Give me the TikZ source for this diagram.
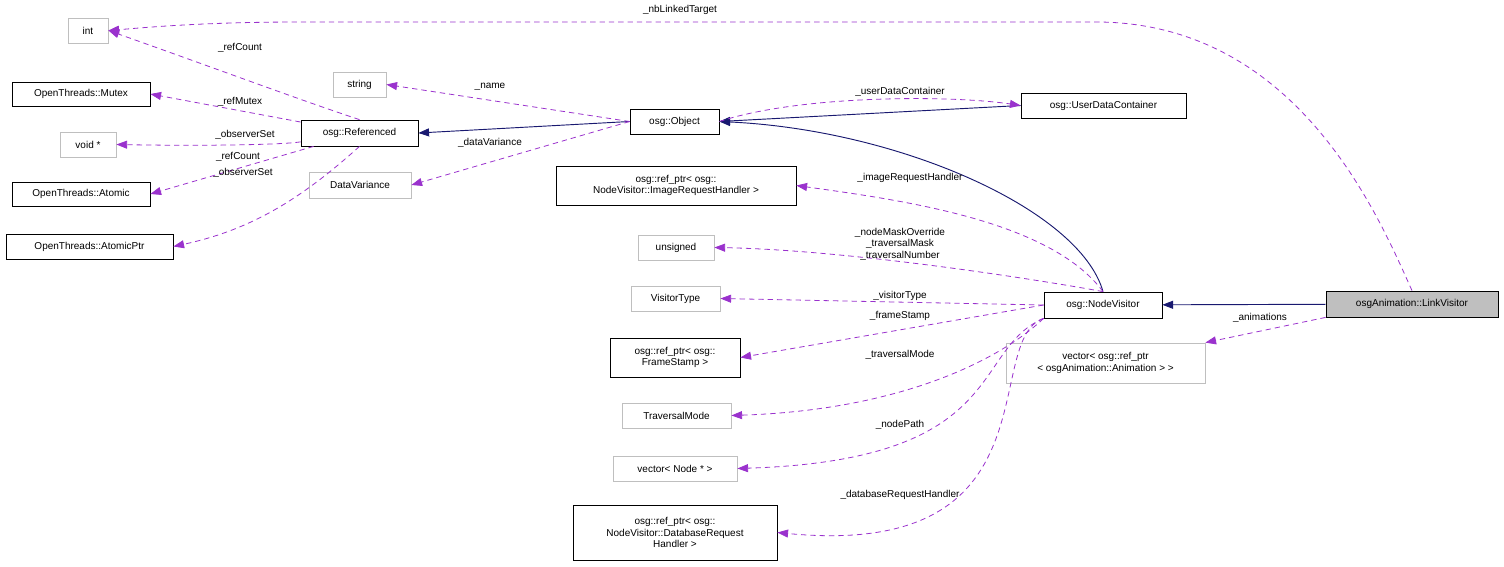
\documentclass[tikz,border=0pt]{standalone}
\usepackage{fontspec}
\setmainfont{Liberation Sans}
\usetikzlibrary{arrows.meta}
\definecolor{nb}{HTML}{191970}
\definecolor{pu}{HTML}{9A32CD}
\definecolor{gb}{HTML}{BFBFBF}
\begin{document}
\begin{tikzpicture}[x=0.75pt,y=-0.75pt,font=\fontsize{7.5}{8.6}\selectfont,
 box/.style={draw=black,fill=white,inner sep=0,align=center,line width=0.6pt},
 gbox/.style={box,draw=gb},
 inh/.style={draw=nb,line width=0.7pt,-{Triangle[length=8pt,width=6pt]}},
 mem/.style={draw=pu,line width=0.6pt,dash pattern=on 4pt off 3pt,-{Triangle[length=8pt,width=6pt,fill=pu]}},
 lab/.style={inner sep=1pt,fill=none}]
\useasboundingbox (0,0) rectangle (1504,567);
\def\bx#1#2#3#4#5#6#7{\node[#1,minimum width={(#4-#3)*0.75pt},minimum height={(#6-#5)*0.75pt}] (#2) at ({(#3+#4)/2},{(#5+#6)/2}) {#7};}
\bx{gbox}{int}{68}{108}{18}{43}{int}
\bx{box}{mutex}{12}{150}{82}{106}{OpenThreads::Mutex}
\bx{gbox}{void}{60}{116}{132}{157}{void *}
\bx{box}{atomic}{12}{150}{182}{206}{OpenThreads::Atomic}
\bx{box}{atomicptr}{6}{173}{234}{259}{OpenThreads::AtomicPtr}
\bx{box}{ref}{301}{418}{120}{146}{osg::Referenced}
\bx{gbox}{string}{333}{386}{72}{97}{string}
\bx{gbox}{dv}{309}{411}{172}{198}{DataVariance}
\bx{box}{obj}{630}{719}{109}{134}{osg::Object}
\bx{box}{udc}{1021}{1186}{93}{118}{osg::UserDataContainer}
\bx{box}{irh}{556}{796}{166}{205}{osg::ref\_ptr< osg::\\NodeVisitor::ImageRequestHandler >}
\bx{gbox}{uns}{638}{714}{235}{260}{unsigned}
\bx{gbox}{vt}{631}{720}{286}{311}{VisitorType}
\bx{box}{fs}{610}{740}{338}{377}{osg::ref\_ptr< osg::\\FrameStamp >}
\bx{gbox}{tm}{622}{731}{403}{428}{TraversalMode}
\bx{gbox}{vn}{613}{737}{456}{481}{vector< Node * >}
\bx{box}{drh}{573}{777}{505}{560}{osg::ref\_ptr< osg::\\NodeVisitor::DatabaseRequest\\Handler >}
\bx{box}{nv}{1044}{1162}{292}{318}{osg::NodeVisitor}
\bx{gbox}{va}{1006}{1205}{343}{383}{vector< osg::ref\_ptr\\< osgAnimation::Animation > >}
\bx{box,fill=gb}{lv}{1326}{1498}{291}{317}{osgAnimation::LinkVisitor}
% inheritance
\draw[inh] (lv) -- (nv);
\draw[inh] (udc.west) -- (obj.east);
\draw[inh] (obj.west) -- (ref.east);
\draw[inh] (nv.north) .. controls (1080,210) and (900,130) .. (obj.east);
% members
\draw[mem] (lv.north) .. controls (1380,220) and (1300,25) .. (1100,22) -- (300,22) .. controls (200,22) and (140,28) .. (int.east);
\node[lab] at (680,10) {\_nbLinkedTarget};
\draw[mem] (ref.north) .. controls (300,100) and (220,70) .. (int.east);
\node[lab] at (240,48) {\_refCount};
\draw[mem] (ref) -- (mutex.east); \node[lab] at (240,102) {\_refMutex};
\draw[mem] (ref) .. controls (280,145) and (200,146) .. (void.east); \node[lab] at (245,135) {\_observerSet};
\draw[mem] (ref) -- (atomic.east); \node[lab] at (238,157) {\_refCount};
\draw[mem] (ref.south) .. controls (300,200) and (250,230) .. (atomicptr.east); \node[lab] at (243,173) {\_observerSet};
\draw[mem] (obj.west) -- (string.east); \node[lab] at (490,87) {\_name};
\draw[mem] (obj.west) -- (dv.east); \node[lab] at (490,143) {\_dataVariance};
\draw[mem] (obj.east) .. controls (800,95) and (950,95) .. (udc.west); \node[lab] at (900,92) {\_userDataContainer};
\draw[mem] (nv.north) .. controls (1050,220) and (900,200) .. (irh.east); \node[lab] at (910,178) {\_imageRequestHandler};
\draw[mem] (nv.north) .. controls (1040,280) and (850,250) .. (uns.east);
\node[lab,align=center] at (900,244) {\_nodeMaskOverride\\\_traversalMask\\\_traversalNumber};
\draw[mem] (nv.west) -- (vt.east); \node[lab] at (900,296) {\_visitorType};
\draw[mem] (nv.west) -- (fs.east); \node[lab] at (900,316) {\_frameStamp};
\draw[mem] (nv.south west) .. controls (1000,360) and (900,410) .. (tm.east); \node[lab] at (900,355) {\_traversalMode};
\draw[mem] (nv.south west) .. controls (970,350) and (1010,460) .. (vn.east); \node[lab] at (900,425) {\_nodePath};
\draw[mem] (nv.south west) .. controls (980,340) and (1060,560) .. (drh.east); \node[lab] at (900,495) {\_databaseRequestHandler};
\draw[mem] (lv.south west) -- (va.north east); \node[lab] at (1260,318) {\_animations};
\end{tikzpicture}
\end{document}
